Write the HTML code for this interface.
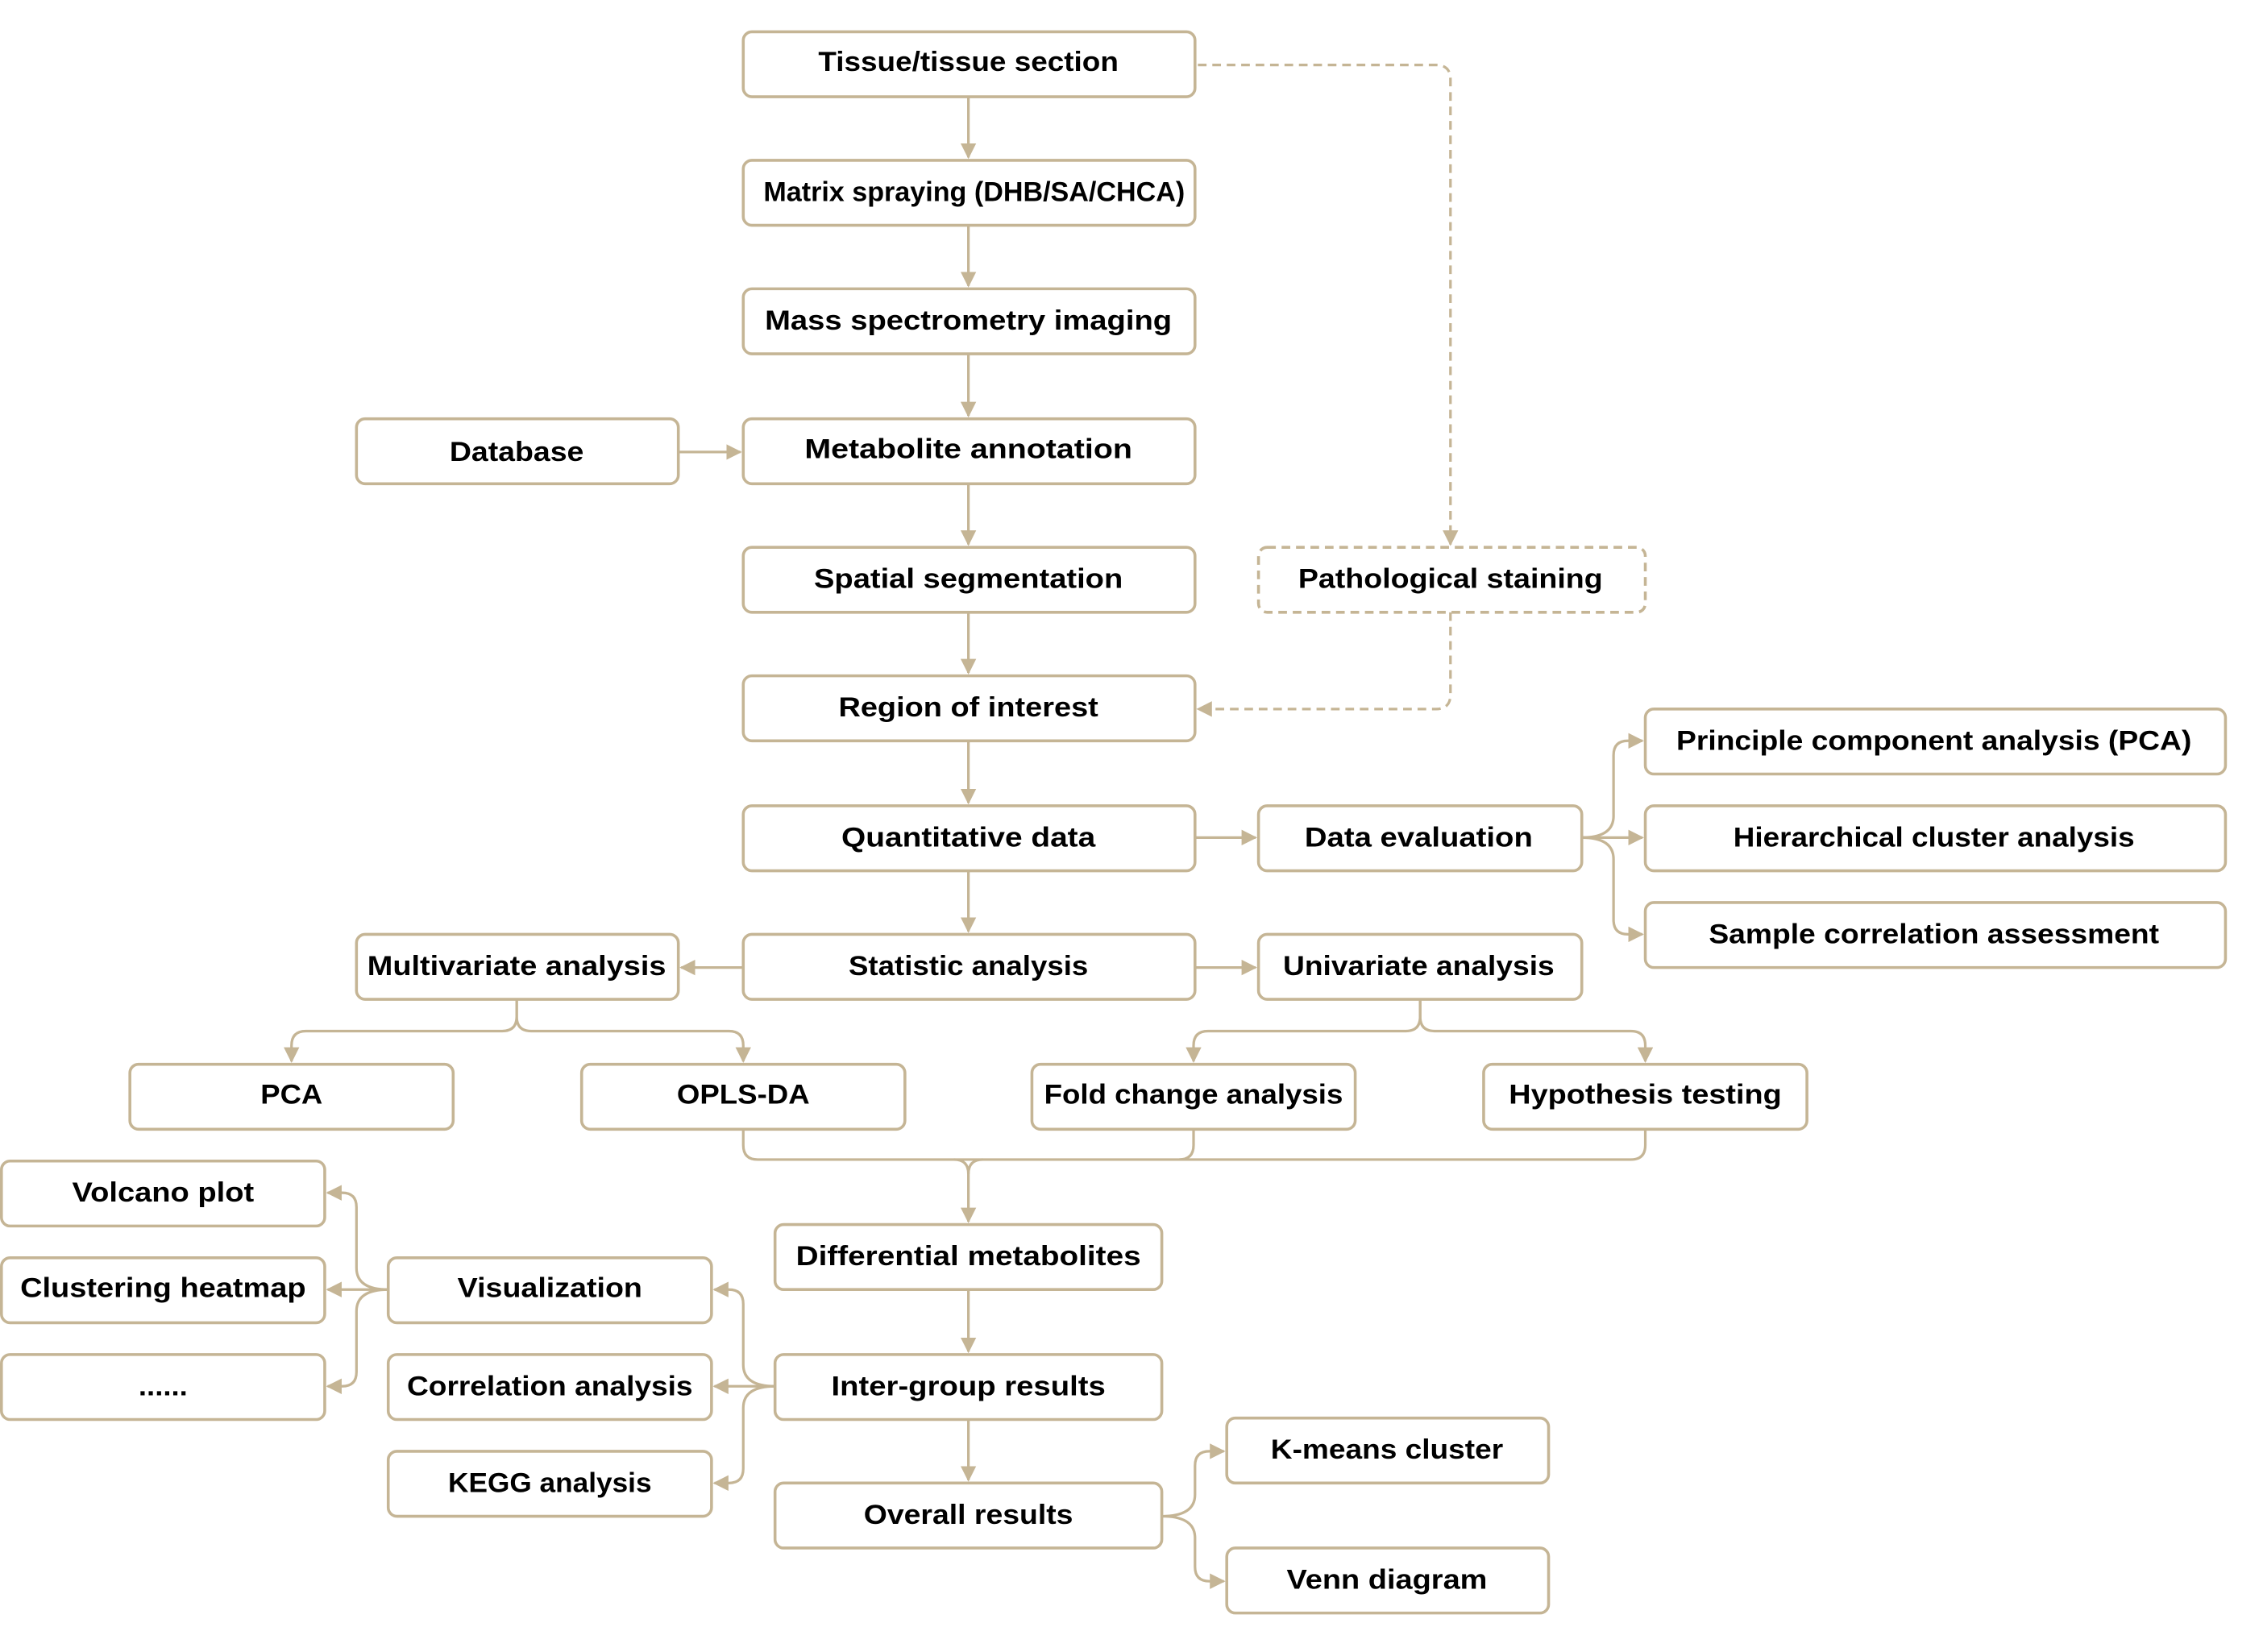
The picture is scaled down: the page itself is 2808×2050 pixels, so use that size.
<!DOCTYPE html>
<html><head><meta charset="utf-8"><style>
html,body{margin:0;padding:0;background:#fff;}
svg{display:block}
text{font-family:"Liberation Sans","DejaVu Sans",sans-serif;font-weight:bold;font-size:19px;fill:#000;text-anchor:middle;dominant-baseline:central}
</style></head><body>
<svg width="2808" height="2050" viewBox="0 0 1568 1144" preserveAspectRatio="none" xmlns="http://www.w3.org/2000/svg">
<defs>
<marker id="a" viewBox="0 0 10 10" refX="9" refY="5" markerWidth="6" markerHeight="6" orient="auto"><path d="M0,0 L10,5 L0,10 z" fill="#c5b595"/></marker>
</defs>
<g fill="none" stroke="#c5b595" stroke-width="1.8">
<path d="M671,67 V109" marker-end="url(#a)"/>
<path d="M671,156 V198" marker-end="url(#a)"/>
<path d="M671,245 V288" marker-end="url(#a)"/>
<path d="M671,335 V377" marker-end="url(#a)"/>
<path d="M671,424 V466" marker-end="url(#a)"/>
<path d="M671,513 V556" marker-end="url(#a)"/>
<path d="M671,603 V645" marker-end="url(#a)"/>
<path d="M470,313 H513" marker-end="url(#a)"/>
<path d="M830,45 H995 Q1005,45 1005,55 V377" stroke-dasharray="6,4" marker-end="url(#a)"/>
<path d="M1005,424 V481 Q1005,491 995,491 H830" stroke-dasharray="6,4" marker-end="url(#a)"/>
<path d="M828,580 H870" marker-end="url(#a)"/>
<path d="M1096,580 H1138" marker-end="url(#a)"/>
<path d="M1096,580 Q1118,580 1118,565 V523 Q1118,513 1128,513 H1138" marker-end="url(#a)"/>
<path d="M1096,580 Q1118,580 1118,595 V637 Q1118,647 1128,647 H1138" marker-end="url(#a)"/>
<path d="M515,670 H472" marker-end="url(#a)"/>
<path d="M828,670 H870" marker-end="url(#a)"/>
<path d="M358,692 V704 Q358,714 348,714 H212 Q202,714 202,724 V735" marker-end="url(#a)"/>
<path d="M358,692 V704 Q358,714 368,714 H505 Q515,714 515,724 V735" marker-end="url(#a)"/>
<path d="M984,692 V704 Q984,714 974,714 H837 Q827,714 827,724 V735" marker-end="url(#a)"/>
<path d="M984,692 V704 Q984,714 994,714 H1130 Q1140,714 1140,724 V735" marker-end="url(#a)"/>
<path d="M515,782 V793 Q515,803 525,803 H1130 Q1140,803 1140,793 V782"/>
<path d="M827,782 V793 Q827,803 817,803"/>
<path d="M661,803 Q671,803 671,813 V846" marker-end="url(#a)"/>
<path d="M681,803 Q671,803 671,813"/>
<path d="M671,893 V936" marker-end="url(#a)"/>
<path d="M671,983 V1025" marker-end="url(#a)"/>
<path d="M537,960 H495" marker-end="url(#a)"/>
<path d="M537,960 Q515,960 515,945 V903 Q515,893 505,893 H495" marker-end="url(#a)"/>
<path d="M537,960 Q515,960 515,975 V1017 Q515,1027 505,1027 H495" marker-end="url(#a)"/>
<path d="M269,893 H227" marker-end="url(#a)"/>
<path d="M269,893 Q247,893 247,878 V836 Q247,826 237,826 H227" marker-end="url(#a)"/>
<path d="M269,893 Q247,893 247,908 V950 Q247,960 237,960 H227" marker-end="url(#a)"/>
<path d="M805,1050 Q828,1050 828,1035 V1015 Q828,1005 838,1005 H848" marker-end="url(#a)"/>
<path d="M805,1050 Q828,1050 828,1065 V1085 Q828,1095 838,1095 H848" marker-end="url(#a)"/>
</g>
<g fill="#fff" stroke="#c5b595" stroke-width="2">
<rect x="515" y="22" width="313" height="45" rx="6"/>
<rect x="515" y="111" width="313" height="45" rx="6"/>
<rect x="515" y="200" width="313" height="45" rx="6"/>
<rect x="515" y="290" width="313" height="45" rx="6"/>
<rect x="515" y="379" width="313" height="45" rx="6"/>
<rect x="515" y="468" width="313" height="45" rx="6"/>
<rect x="515" y="558" width="313" height="45" rx="6"/>
<rect x="515" y="647" width="313" height="45" rx="6"/>
<rect x="247" y="290" width="223" height="45" rx="6"/>
<rect x="872" y="379" width="268" height="45" rx="6" stroke-dasharray="6,4"/>
<rect x="872" y="558" width="224" height="45" rx="6"/>
<rect x="1140" y="491" width="402" height="45" rx="6"/>
<rect x="1140" y="558" width="402" height="45" rx="6"/>
<rect x="1140" y="625" width="402" height="45" rx="6"/>
<rect x="247" y="647" width="223" height="45" rx="6"/>
<rect x="872" y="647" width="224" height="45" rx="6"/>
<rect x="90" y="737" width="224" height="45" rx="6"/>
<rect x="403" y="737" width="224" height="45" rx="6"/>
<rect x="715" y="737" width="224" height="45" rx="6"/>
<rect x="1028" y="737" width="224" height="45" rx="6"/>
<rect x="537" y="848" width="268" height="45" rx="6"/>
<rect x="537" y="938" width="268" height="45" rx="6"/>
<rect x="537" y="1027" width="268" height="45" rx="6"/>
<rect x="269" y="871" width="224" height="45" rx="6"/>
<rect x="269" y="938" width="224" height="45" rx="6"/>
<rect x="269" y="1005" width="224" height="45" rx="6"/>
<rect x="1" y="804" width="224" height="45" rx="6"/>
<rect x="1" y="871" width="224" height="45" rx="6"/>
<rect x="1" y="938" width="224" height="45" rx="6"/>
<rect x="850" y="982" width="223" height="45" rx="6"/>
<rect x="850" y="1072" width="223" height="45" rx="6"/>
</g>
<g>
<text x="671" y="43" textLength="208" lengthAdjust="spacingAndGlyphs">Tissue/tissue section</text>
<text x="675" y="133" textLength="292" lengthAdjust="spacingAndGlyphs">Matrix spraying (DHB/SA/CHCA)</text>
<text x="671" y="222" textLength="282" lengthAdjust="spacingAndGlyphs">Mass spectrometry imaging</text>
<text x="671" y="311" textLength="227" lengthAdjust="spacingAndGlyphs">Metabolite annotation</text>
<text x="671" y="401" textLength="214" lengthAdjust="spacingAndGlyphs">Spatial segmentation</text>
<text x="671" y="490" textLength="180" lengthAdjust="spacingAndGlyphs">Region of interest</text>
<text x="671" y="580" textLength="176" lengthAdjust="spacingAndGlyphs">Quantitative data</text>
<text x="671" y="669" textLength="166" lengthAdjust="spacingAndGlyphs">Statistic analysis</text>
<text x="358" y="313" textLength="93" lengthAdjust="spacingAndGlyphs">Database</text>
<text x="1005" y="401" textLength="211" lengthAdjust="spacingAndGlyphs">Pathological staining</text>
<text x="983" y="580" textLength="158" lengthAdjust="spacingAndGlyphs">Data evaluation</text>
<text x="1340" y="513" textLength="357" lengthAdjust="spacingAndGlyphs">Principle component analysis (PCA)</text>
<text x="1340" y="580" textLength="278" lengthAdjust="spacingAndGlyphs">Hierarchical cluster analysis</text>
<text x="1340" y="647" textLength="312" lengthAdjust="spacingAndGlyphs">Sample correlation assessment</text>
<text x="358" y="669" textLength="207" lengthAdjust="spacingAndGlyphs">Multivariate analysis</text>
<text x="983" y="669" textLength="188" lengthAdjust="spacingAndGlyphs">Univariate analysis</text>
<text x="202" y="758" textLength="43" lengthAdjust="spacingAndGlyphs">PCA</text>
<text x="515" y="758" textLength="92" lengthAdjust="spacingAndGlyphs">OPLS-DA</text>
<text x="827" y="758" textLength="207" lengthAdjust="spacingAndGlyphs">Fold change analysis</text>
<text x="1140" y="758" textLength="189" lengthAdjust="spacingAndGlyphs">Hypothesis testing</text>
<text x="671" y="870" textLength="239" lengthAdjust="spacingAndGlyphs">Differential metabolites</text>
<text x="671" y="960" textLength="190" lengthAdjust="spacingAndGlyphs">Inter-group results</text>
<text x="671" y="1049" textLength="145" lengthAdjust="spacingAndGlyphs">Overall results</text>
<text x="381" y="892" textLength="128" lengthAdjust="spacingAndGlyphs">Visualization</text>
<text x="381" y="960" textLength="198" lengthAdjust="spacingAndGlyphs">Correlation analysis</text>
<text x="381" y="1027" textLength="141" lengthAdjust="spacingAndGlyphs">KEGG analysis</text>
<text x="113" y="826" textLength="126" lengthAdjust="spacingAndGlyphs">Volcano plot</text>
<text x="113" y="892" textLength="198" lengthAdjust="spacingAndGlyphs">Clustering heatmap</text>
<text x="113" y="960" textLength="34" lengthAdjust="spacingAndGlyphs">......</text>
<text x="961" y="1004" textLength="161" lengthAdjust="spacingAndGlyphs">K-means cluster</text>
<text x="961" y="1094" textLength="139" lengthAdjust="spacingAndGlyphs">Venn diagram</text>
</g>
</svg>
</body></html>
